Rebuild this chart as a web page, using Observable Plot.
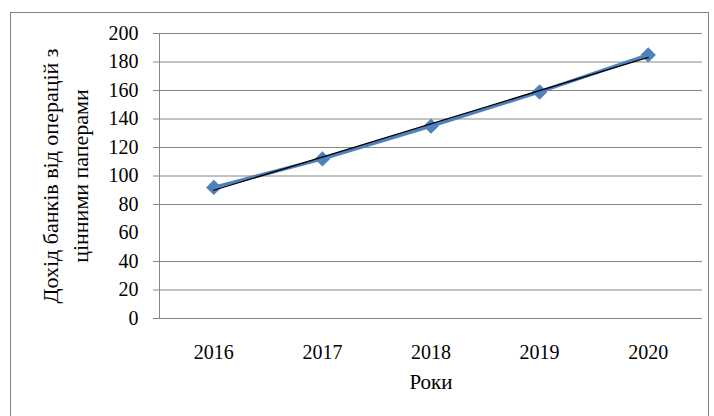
<!DOCTYPE html>
<html>
<head>
<meta charset="utf-8">
<script src="https://cdn.jsdelivr.net/npm/d3@7"></script>
<script src="https://cdn.jsdelivr.net/npm/@observablehq/plot@0.6"></script>
<style>
  html, body { margin: 0; padding: 0; background: #fff; }
  #wrap { position: relative; width: 714px; height: 416px; overflow: hidden; }
  #border { position: absolute; left: 10px; top: 12px; width: 699px; height: 420px; border: 1px solid #7f7f7f; box-sizing: border-box; pointer-events: none; }
  #wrap svg, #wrap svg text { font-family: "Liberation Serif", "Times New Roman", serif !important; }
</style>
</head>
<body>
<div id="wrap"><div id="border"></div></div>
<script>
const years = [2016, 2017, 2018, 2019, 2020];
const income = [92, 112, 135, 159, 185];
const yTicks = [0, 20, 40, 60, 80, 100, 120, 140, 160, 180, 200];
const gridValues = [0, 20, 40, 80, 100, 120, 140, 160, 180, 200];
const yTitle = "Дохід банків від операцій з\nцінними паперами";
const xTitle = "Роки";

const data = years.map((y, i) => ({year: y, value: income[i]}));
const blue = "#4f81bd";
const grid = "#868686";
const serif = "Liberation Serif";

const chart = Plot.plot({
  width: 714,
  height: 416,
  marginLeft: 159,
  marginRight: 12,
  marginTop: 33,
  marginBottom: 98,
  style: "font-family: 'Liberation Serif', serif; font-size: 20px; color: #000; background: transparent;",
  x: {type: "linear", domain: [2015.5, 2020.5]},
  y: {domain: [0, 200]},
  marks: [
    Plot.ruleY(gridValues, {stroke: grid, strokeWidth: 1, insetLeft: -6}),
    Plot.ruleX([2015.5], {stroke: grid, strokeWidth: 1}),
    Plot.axisY(yTicks, {tickSize: 0, tickPadding: 21, label: null, fill: "#000", fontFamily: serif, fontSize: 20, style: {letterSpacing: "1.5px"}}),
    Plot.axisX(years, {tickSize: 0, tickPadding: 26, label: null, tickFormat: d => String(d), fill: "#000", fontFamily: serif, fontSize: 20, style: {letterSpacing: "1.8px"}}),
    Plot.line(data, {x: "year", y: "value", stroke: blue, strokeWidth: 3.5}),
    Plot.dot(data, {x: "year", y: "value", symbol: "diamond2", r: 6, fill: blue, stroke: blue}),
    Plot.linearRegressionY(data, {x: "year", y: "value", stroke: "#000", strokeWidth: 1.3, ci: 0}),
    Plot.text([xTitle], {frameAnchor: "bottom", dy: 70, fontSize: 21, fontFamily: serif, fill: "#000", style: {letterSpacing: "1px"}}),
    Plot.text([yTitle], {frameAnchor: "left", textAnchor: "middle", dx: -96, rotate: -90, fontSize: 22, fontFamily: serif, lineHeight: 1.35, fill: "#000"})
  ]
});
document.getElementById("wrap").prepend(chart);
</script>
</body>
</html>
